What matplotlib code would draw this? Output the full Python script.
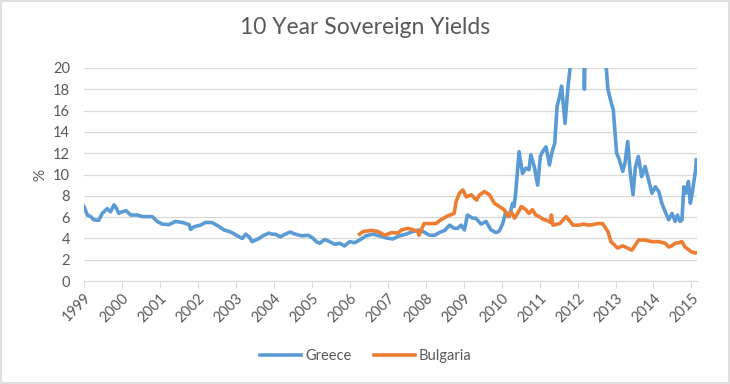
#dependencies
import numpy
import matplotlib
matplotlib.use("Agg")
import matplotlib.pyplot as plt

#data (decimal year, yield in %)
greece_years = [
    1999.00, 1999.09, 1999.18, 1999.26, 1999.39, 1999.48, 1999.61, 1999.70, 1999.79, 1999.83,
    1999.92, 2000.00, 2000.11, 2000.23, 2000.41, 2000.54, 2000.80, 2000.93, 2001.06, 2001.24,
    2001.41, 2001.59, 2001.77, 2001.81, 2001.90, 2002.07, 2002.20, 2002.37, 2002.52, 2002.69,
    2002.87, 2003.04, 2003.17, 2003.26, 2003.35, 2003.43, 2003.61, 2003.74, 2003.87, 2003.96,
    2004.04, 2004.17, 2004.30, 2004.43, 2004.57, 2004.74, 2004.91, 2005.04, 2005.12, 2005.21,
    2005.34, 2005.47, 2005.61, 2005.74, 2005.86, 2006.00, 2006.13, 2006.26, 2006.43, 2006.61,
    2006.78, 2006.96, 2007.13, 2007.31, 2007.48, 2007.66, 2007.83, 2007.96, 2008.10, 2008.24,
    2008.36, 2008.50, 2008.63, 2008.75, 2008.84, 2008.93, 2009.02, 2009.10, 2009.24, 2009.32,
    2009.46, 2009.59, 2009.72, 2009.85, 2009.94, 2010.03, 2010.11, 2010.20, 2010.29, 2010.33,
    2010.37, 2010.46, 2010.55, 2010.64, 2010.72, 2010.77, 2010.86, 2010.95, 2011.02, 2011.08,
    2011.17, 2011.26, 2011.33, 2011.40, 2011.46, 2011.53, 2011.58, 2011.62, 2011.67, 2011.75,
    2011.90, 2012.05, 2012.15, 2012.18, 2012.21, 2012.26, 2012.40, 2012.55, 2012.68, 2012.76,
    2012.80, 2012.89, 2012.94, 2013.03, 2013.10, 2013.19, 2013.25, 2013.32, 2013.39, 2013.46,
    2013.52, 2013.60, 2013.69, 2013.78, 2013.87, 2013.96, 2014.05, 2014.14, 2014.22, 2014.31,
    2014.40, 2014.49, 2014.57, 2014.63, 2014.70, 2014.75, 2014.80, 2014.86, 2014.92, 2014.97,
    2015.02, 2015.11, 2015.13,
]
greece_yields = [
    7.0, 6.2, 6.05, 5.75, 5.7, 6.35, 6.8, 6.5, 7.15, 7.0,
    6.35, 6.5, 6.6, 6.2, 6.2, 6.05, 6.05, 5.6, 5.35, 5.3,
    5.6, 5.5, 5.3, 4.85, 5.1, 5.25, 5.5, 5.5, 5.2, 4.8,
    4.6, 4.25, 4.0, 4.4, 4.15, 3.7, 4.0, 4.3, 4.5, 4.4,
    4.4, 4.15, 4.4, 4.6, 4.4, 4.25, 4.3, 4.0, 3.7, 3.55,
    3.9, 3.7, 3.45, 3.55, 3.3, 3.7, 3.6, 3.85, 4.25, 4.4,
    4.25, 4.05, 3.95, 4.25, 4.4, 4.65, 4.8, 4.6, 4.3, 4.3,
    4.55, 4.75, 5.25, 4.95, 4.95, 5.25, 4.8, 6.2, 5.9, 5.9,
    5.35, 5.6, 4.8, 4.55, 4.7, 5.4, 6.5, 6.05, 7.3, 7.0,
    8.25, 12.15, 10.1, 10.6, 10.45, 11.85, 10.75, 9.0, 11.7, 12.15,
    12.6, 10.9, 12.15, 12.95, 16.4, 17.35, 18.3, 16.7, 14.8, 18.3,
    23.0, 33.0, 36.0, 18.0, 25.0, 22.0, 29.0, 26.0, 21.0, 19.85,
    18.0, 16.7, 16.1, 12.0, 11.4, 10.3, 11.1, 13.1, 10.1, 8.1,
    10.6, 11.7, 9.8, 10.75, 9.5, 8.25, 8.85, 8.4, 7.3, 6.5,
    5.75, 6.35, 5.6, 6.2, 5.6, 5.75, 8.85, 8.25, 9.35, 7.3,
    8.25, 10.45, 11.4,
]

bulgaria_years = [
    2006.26, 2006.35, 2006.57, 2006.75, 2006.92, 2007.10, 2007.27, 2007.36, 2007.54, 2007.72,
    2007.80, 2007.82, 2007.96, 2008.14, 2008.27, 2008.40, 2008.57, 2008.75, 2008.80, 2008.89,
    2008.98, 2009.07, 2009.20, 2009.34, 2009.42, 2009.55, 2009.68, 2009.81, 2009.94, 2010.07,
    2010.16, 2010.25, 2010.34, 2010.42, 2010.52, 2010.64, 2010.72, 2010.81, 2010.90, 2010.99,
    2011.12, 2011.16, 2011.29, 2011.31, 2011.35, 2011.53, 2011.70, 2011.88, 2012.05, 2012.14,
    2012.31, 2012.40, 2012.53, 2012.66, 2012.80, 2012.88, 2012.97, 2013.05, 2013.18, 2013.26,
    2013.43, 2013.61, 2013.78, 2013.96, 2014.13, 2014.31, 2014.40, 2014.48, 2014.57, 2014.66,
    2014.75, 2014.83, 2015.00, 2015.08, 2015.13,
]
bulgaria_yields = [
    4.4, 4.65, 4.75, 4.65, 4.3, 4.55, 4.5, 4.8, 4.95, 4.75,
    4.65, 4.3, 5.4, 5.4, 5.4, 5.75, 6.1, 6.35, 7.45, 8.25,
    8.55, 7.9, 8.1, 7.6, 8.1, 8.4, 8.1, 7.3, 7.0, 6.7,
    6.05, 6.5, 5.9, 6.35, 7.0, 6.7, 6.35, 6.7, 6.2, 6.05,
    5.75, 5.75, 5.5, 6.2, 5.25, 5.4, 6.05, 5.25, 5.25, 5.35,
    5.25, 5.3, 5.4, 5.4, 4.65, 3.7, 3.4, 3.1, 3.3, 3.2,
    2.9, 3.85, 3.85, 3.7, 3.7, 3.55, 3.2, 3.3, 3.55, 3.6,
    3.7, 3.2, 2.75, 2.65, 2.65,
]

year_ticks = list(range(1999, 2016))
y_ticks = list(range(0, 22, 2))

#colours
text_grey = "#595959"
grid_grey = "#D9D9D9"

plt.rcParams["font.family"] = ["Lato", "DejaVu Sans"]

fig = plt.figure(figsize=(7.3, 3.84), dpi=100)
ax = fig.add_axes([0.115, 0.268, 0.84, 0.555])

ax.plot(greece_years, greece_yields, color="#5B9BD5", linewidth=2.6, label="Greece", solid_joinstyle="round")
ax.plot(bulgaria_years, bulgaria_yields, color="#ED7D31", linewidth=2.6, label="Bulgaria", solid_joinstyle="round")

ax.set_xlim(1999, 2015.15)
ax.set_ylim(0, 20)
ax.set_yticks(y_ticks)
ax.set_xticks(year_ticks)
ax.set_xticklabels([str(y) for y in year_ticks], rotation=45, ha="right", rotation_mode="anchor")
ax.grid(axis="y", color=grid_grey, linewidth=0.9)
ax.set_axisbelow(True)

for side in ["top", "right", "left"]:
    ax.spines[side].set_visible(False)
ax.spines["bottom"].set_color(grid_grey)
ax.tick_params(axis="y", length=0, colors=text_grey, labelsize=10.5, pad=10)
ax.tick_params(axis="x", length=5, direction="out", colors=text_grey, labelsize=10.5, pad=2)
ax.tick_params(axis="x", color=grid_grey)

ax.set_ylabel("%", color=text_grey, fontsize=11, labelpad=4)
fig.suptitle("10 Year Sovereign Yields", color=text_grey, fontsize=16.5, y=0.955)

ax.legend(loc="center", bbox_to_anchor=(0.46, -0.35), ncol=2, frameon=False,
          fontsize=10.5, labelcolor=text_grey, handlelength=2.8, columnspacing=1.5, handletextpad=0.3)

#chart border
fig.patches.append(plt.Rectangle((0.001, 0.002), 0.997, 0.995, transform=fig.transFigure,
                                 fill=False, edgecolor=grid_grey, linewidth=1.2))

fig.savefig("out.png", dpi=100)
